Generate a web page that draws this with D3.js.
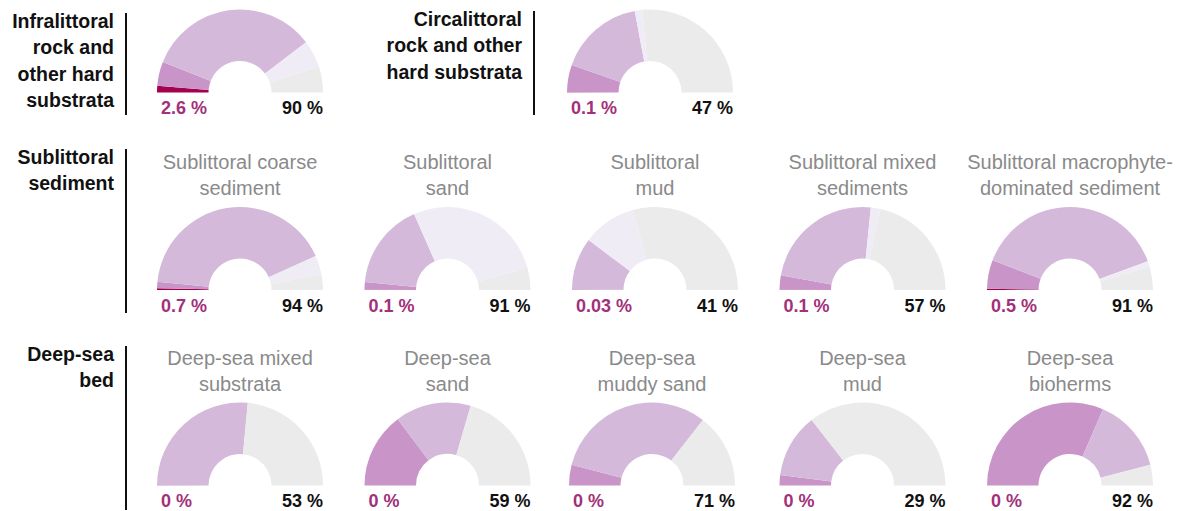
<!DOCTYPE html>
<html>
<head>
<meta charset="utf-8">
<script src="https://cdn.jsdelivr.net/npm/d3@7"></script>
<style>
  body { margin: 0; background: #fff; }
  svg { display: block; font-family: "Liberation Sans", Arial, Helvetica, sans-serif; }
</style>
</head>
<body>
<div id="chart"></div>
<script>
// one entry per habitat (share of the half circle, %)
var habitats = [
  "Infralittoral rock and other hard substrata",
  "Circalittoral rock and other hard substrata",
  "Sublittoral coarse sediment",
  "Sublittoral sand",
  "Sublittoral mud",
  "Sublittoral mixed sediments",
  "Sublittoral macrophyte-dominated sediment",
  "Deep-sea mixed substrata",
  "Deep-sea sand",
  "Deep-sea muddy sand",
  "Deep-sea mud",
  "Deep-sea bioherms"
];
var darkShare      = [2.6, 0.1, 0.7, 0.1, 0.03, 0.1, 0.5, 0, 0, 0, 0, 0];
var mediumShare    = [9.4, 10.7, 2.5, 3, 0.3, 5.6, 11.2, 0.2, 29.5, 8, 4, 63];
var lightShare     = [67.3, 33.3, 83.4, 33.7, 20.2, 47.5, 77, 52.8, 29.5, 63, 25, 29];
var veryLightShare = [10.7, 2.9, 7.4, 54.5, 20.9, 3.8, 2.3, 0, 0, 0, 0, 0];
var greyShare      = [10, 53, 6, 8.7, 58.6, 43, 9, 47, 41, 29, 71, 8];

var leftLabels  = ["2.6 %", "0.1 %", "0.7 %", "0.1 %", "0.03 %", "0.1 %", "0.5 %", "0 %", "0 %", "0 %", "0 %", "0 %"];
var rightLabels = ["90 %", "47 %", "94 %", "91 %", "41 %", "57 %", "91 %", "53 %", "59 %", "71 %", "29 %", "92 %"];

var titleLines = [
  [], [],
  ["Sublittoral coarse", "sediment"],
  ["Sublittoral", "sand"],
  ["Sublittoral", "mud"],
  ["Sublittoral mixed", "sediments"],
  ["Sublittoral macrophyte-", "dominated sediment"],
  ["Deep-sea mixed", "substrata"],
  ["Deep-sea", "sand"],
  ["Deep-sea", "muddy sand"],
  ["Deep-sea", "mud"],
  ["Deep-sea", "bioherms"]
];

var groupLines = [
  ["Infralittoral", "rock and", "other hard", "substrata"],
  ["Circalittoral", "rock and other", "hard substrata"],
  ["Sublittoral", "sediment"],
  ["Deep-sea", "bed"]
];

var segColors = ["#a3004f", "#c994c7", "#d4b9da", "#f0ecf5", "#ebebeb"];

// layout
var W = 1181, H = 511;
var R = 83, r0 = 31.5;
var rowBase = [92.5, 290, 485.5];
// [row, column, x nudge] for each habitat
var slots = [[0, 0, 0], [0, 2, -5], [1, 0, 0], [1, 1, 0], [1, 2, 0], [1, 3, 0], [1, 4, 0],
             [2, 0, 0], [2, 1, 0], [2, 2, -3], [2, 3, 0], [2, 4, 0]];
// group label: [column of first chart, x nudge, line top, line bottom]
var groupSlots = [[0, 0, 13, 115], [2, -7, 11, 115], [0, 0, 149, 313], [0, 0, 346, 510]];

var x = d3.scalePoint().domain([0, 1, 2, 3, 4]).range([240, 1070]);

var svg = d3.select("#chart").append("svg")
  .attr("width", W).attr("height", H);

var pie = d3.pie().sort(null)
  .startAngle(-Math.PI / 2).endAngle(Math.PI / 2)
  .value(function(d) { return d; });

var arc = d3.arc().outerRadius(R).innerRadius(r0);

habitats.forEach(function(name, i) {
  var s = slots[i];
  var cx = x(s[1]) + s[2], cy = rowBase[s[0]];
  var vals = [darkShare[i], mediumShare[i], lightShare[i], veryLightShare[i], greyShare[i]];

  var g = svg.append("g")
    .attr("class", "habitat")
    .attr("transform", "translate(" + cx + "," + cy + ")");

  g.selectAll("path").data(pie(vals)).enter().append("path")
    .attr("d", arc)
    .style("fill", function(d, k) { return segColors[k]; });

  g.append("text")
    .attr("x", -R + 4).attr("y", 21.5)
    .attr("font-size", 18).attr("font-weight", "bold")
    .attr("fill", "#a3307a")
    .text(leftLabels[i]);

  g.append("text")
    .attr("x", R).attr("y", 21.5)
    .attr("text-anchor", "end")
    .attr("font-size", 18).attr("font-weight", "bold")
    .attr("fill", "#111")
    .text(rightLabels[i]);

  g.selectAll("text.title").data(titleLines[i]).enter().append("text")
    .attr("class", "title")
    .attr("x", 0)
    .attr("y", function(d, k) { return -121 + k * 26; })
    .attr("text-anchor", "middle")
    .attr("font-size", 20)
    .attr("fill", "#8a8a8a")
    .text(function(d) { return d; });
});

groupLines.forEach(function(lines, i) {
  var s = groupSlots[i];
  var cx = x(s[0]) + s[1];
  var top = s[2], bottom = s[3];

  svg.append("line")
    .attr("x1", cx - 114).attr("x2", cx - 114)
    .attr("y1", top).attr("y2", bottom)
    .attr("stroke", "#111").attr("stroke-width", 2);

  svg.selectAll(null).data(lines).enter().append("text")
    .attr("x", cx - 126)
    .attr("y", function(d, k) { return top + 15 + k * 26.3; })
    .attr("text-anchor", "end")
    .attr("font-size", 19.5).attr("font-weight", "bold")
    .attr("fill", "#111")
    .text(function(d) { return d; });
});
</script>
</body>
</html>
